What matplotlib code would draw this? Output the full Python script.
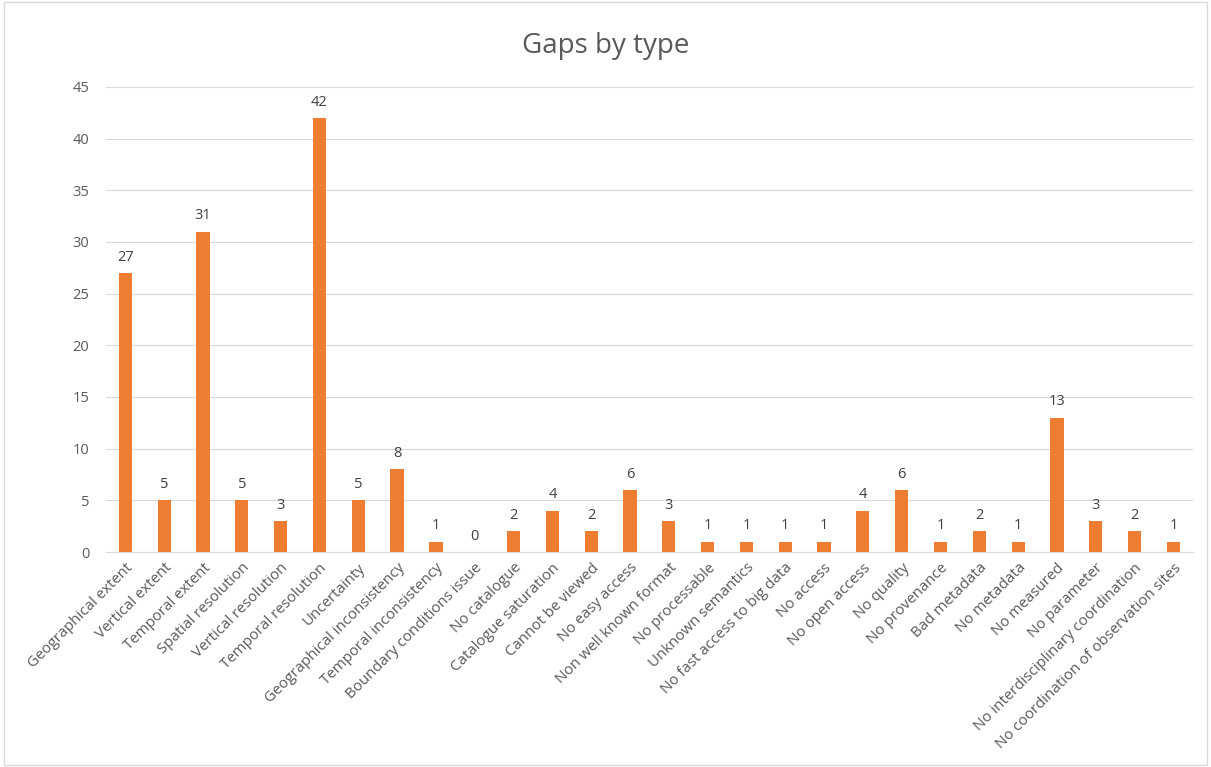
import matplotlib
matplotlib.use("Agg")
from matplotlib import pyplot as plt

categories = [
    "Geographical extent", "Vertical extent", "Temporal extent", "Spatial resolution",
    "Vertical resolution", "Temporal resolution", "Uncertainty", "Geographical inconsistency",
    "Temporal inconsistency", "Boundary conditions issue", "No catalogue", "Catalogue saturation",
    "Cannot be viewed", "No easy access", "Non well known format", "No processable",
    "Unknown semantics", "No fast access to big data", "No access", "No open access",
    "No quality", "No provenance", "Bad metadata", "No metadata", "No measured",
    "No parameter", "No interdisciplinary coordination", "No coordination of observation sites",
]
counts = [27, 5, 31, 5, 3, 42, 5, 8, 1, 0, 2, 4, 2, 6, 3, 1, 1, 1, 1, 4, 6, 1, 2, 1, 13, 3, 2, 1]

plt.rcParams['font.family'] = ['Open Sans', 'DejaVu Sans']
text_col = '#595959'

fig = plt.figure(figsize=(12.11, 7.67), dpi=100)
ax = fig.add_axes([0.0875, 0.2803, 0.8975, 0.6063])

x = list(range(len(categories)))
bars = ax.bar(x, counts, width=0.34, color='#ED7D31', zorder=3)
for xi, v in zip(x, counts):
    ax.text(xi, v + 0.8, str(v), ha='center', va='bottom', fontsize=10.5, color='#404040')

ax.set_ylim(0, 45)
ax.set_yticks(range(0, 46, 5))
ax.set_xlim(-0.5, len(categories) - 0.5)
ax.set_xticks(x)
ax.set_xticklabels(categories, rotation=45, ha='right', rotation_mode='anchor', fontsize=10.8, color=text_col)
ax.tick_params(axis='x', length=0, pad=6)
ax.tick_params(axis='y', length=0, labelsize=10.5, labelcolor=text_col, pad=12)
ax.grid(axis='y', color='#D9D9D9', linewidth=0.8, zorder=0)
for side in ['left', 'right', 'top']:
    ax.spines[side].set_visible(False)
ax.spines['bottom'].set_color('#D9D9D9')

fig.text(0.5, 0.94, "Gaps by type", ha='center', va='center', fontsize=20, color=text_col)

border = plt.Rectangle((0.003, 0.003), 0.994, 0.994, transform=fig.transFigure,
                       fill=False, edgecolor='#D9D9D9', linewidth=1)
fig.patches.append(border)

plt.savefig("out.png", dpi=100)
